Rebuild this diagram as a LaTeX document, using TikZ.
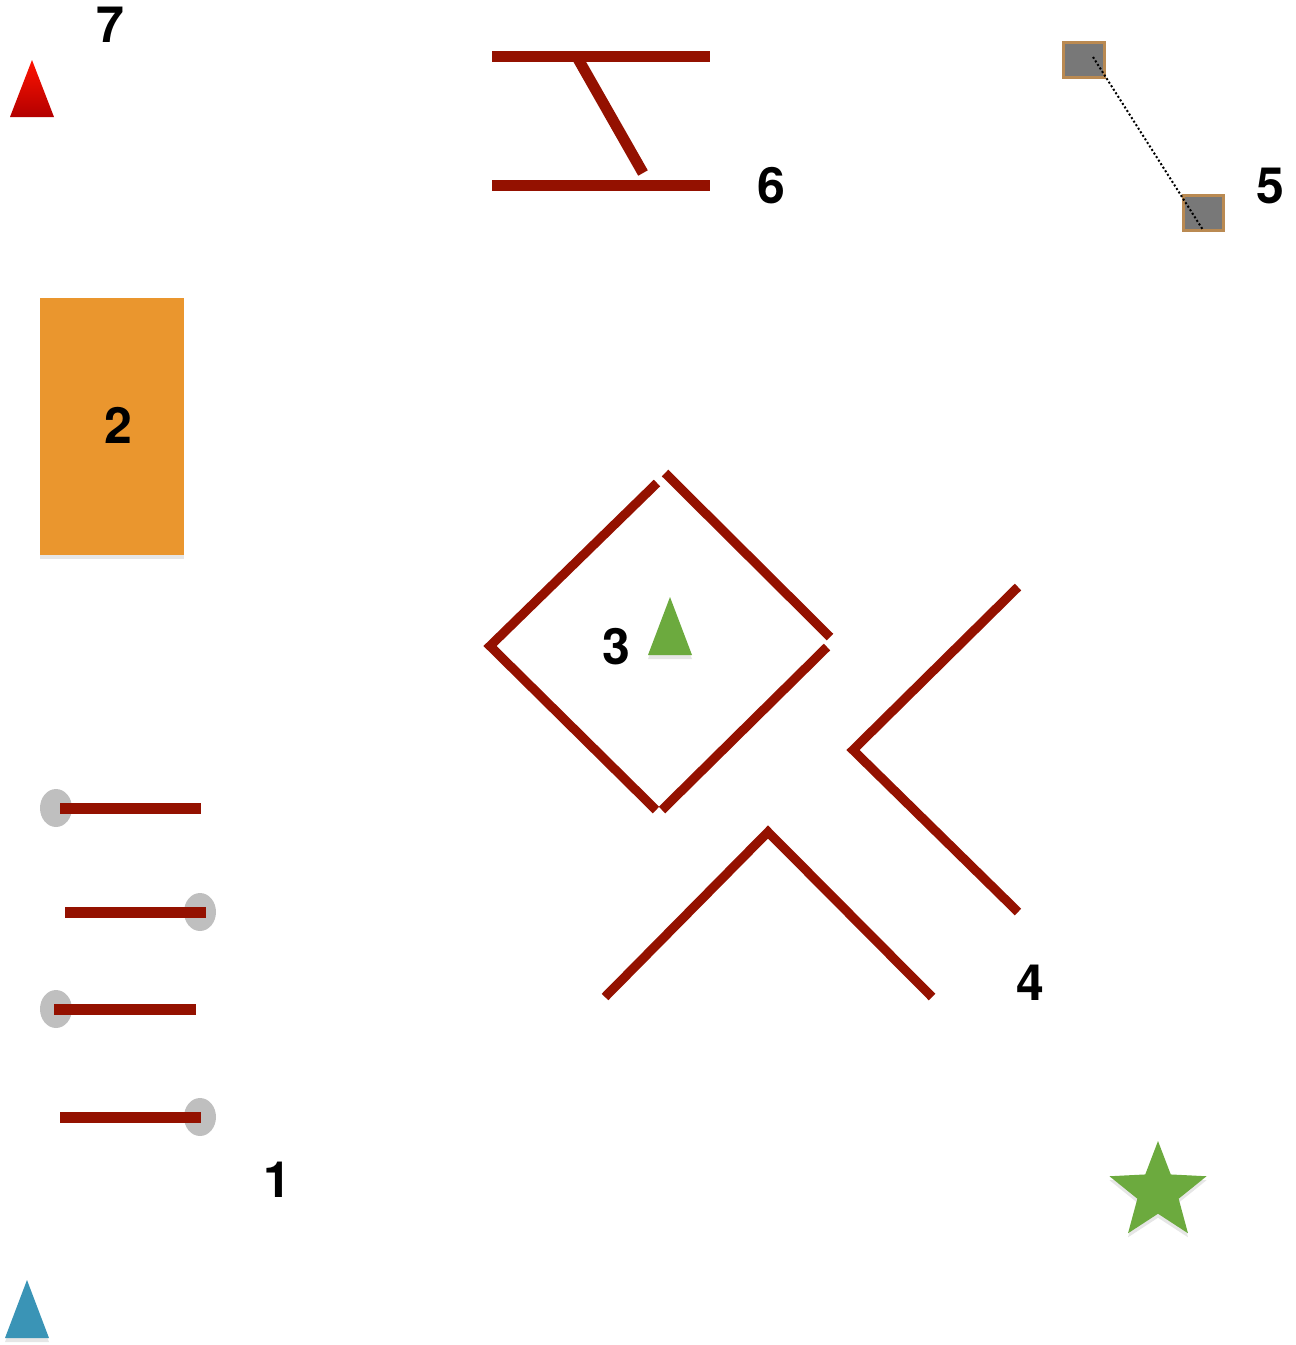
\documentclass[tikz,border=0pt]{standalone}
\usepackage{fontspec}
\setmainfont{TeX Gyre Heros}
\usetikzlibrary{shapes.geometric,shadows}
\definecolor{barred}{RGB}{148,17,0}
\definecolor{leafgreen}{RGB}{108,170,62}
\definecolor{tealblue}{RGB}{58,148,182}
\definecolor{sandorange}{RGB}{234,150,46}
\definecolor{knobgray}{RGB}{191,191,191}
\definecolor{blockgray}{RGB}{120,120,120}
\definecolor{blockrim}{RGB}{186,138,82}

\begin{document}
\begin{tikzpicture}[x=0.5pt,y=-0.5pt,
  num/.style={font=\fontsize{25}{30}\selectfont\bfseries,inner sep=0pt},
  bar/.style={draw=barred,line width=5.5pt},
  wall/.style={draw=barred,line width=4.6pt},
  knob/.style={fill=knobgray,draw=none},
  block/.style={draw=blockrim,fill=blockgray,line width=1.5pt,minimum height=17.5pt,inner sep=0pt},
  soft/.style={drop shadow={opacity=0.2,shadow xshift=0pt,shadow yshift=-2pt}}]
  \useasboundingbox (0,0) rectangle (1296,1345);

  % marker 7
  \shade[top color=red!85!orange,bottom color=red!70!black] (32,60) -- (54,117) -- (10,117) -- cycle;
  \node[num] (n7) at (110,25) {7};

  % hurdle 6
  \draw[bar] (492,56) -- (710,56);
  \draw[bar] (492,185) -- (710,185);
  \draw[bar] (577,57) -- (643,173);
  \node[num] (n6) at (771,186) {6};

  % blocks 5
  \node[block,minimum width=20.5pt] (b1) at (1083.5,59.5) {};
  \node[block,minimum width=20pt] (b2) at (1203,212.5) {};
  \coordinate (d1) at (1093,57);
  \coordinate (d2) at (1203,230);
  \draw[line width=1pt,dash pattern=on 1pt off 1.1pt] (d1) -- (d2);
  \node[num] (n5) at (1270,186) {5};

  % pad 2
  \node[fill=sandorange,soft,minimum width=72pt,minimum height=128.5pt,inner sep=0pt] (pad) at (112,426.5) {};
  \node[num] (n2) at (118,425) {2};

  % box 3
  \draw[wall] (657,483) -- (490,646) -- (656,810);
  \draw[wall] (662,810) -- (827,647);
  \draw[wall] (830,637) -- (665,473);
  \fill[leafgreen,soft] (670,597) -- (692,655) -- (648,655) -- cycle;
  \node[num] (n3) at (616,647) {3};

  % walls 4
  \draw[wall] (1018,587) -- (853,750) -- (1018,912);
  \draw[wall] (605,997) -- (768,832) -- (932,997);
  \node[num] (n4) at (1030,983) {4};

  % bars 1
  \foreach \y/\a/\b/\k in {808/60/201/56, 912/65/206/200, 1009/54/196/56, 1117/60/201/200} {
    \fill[knob] (\k,\y) ellipse [x radius=16, y radius=19];
    \draw[bar] (\a,\y) -- (\b,\y);
  }
  \node[num] (n1) at (277,1180) {1};

  % goal star
  \node[star,star points=5,star point ratio=2.35,minimum size=51pt,inner sep=0pt,fill=leafgreen,soft] (goal) at (1158,1192) {};

  % start marker
  \fill[tealblue,soft] (27,1280) -- (49,1338) -- (5,1338) -- cycle;
\end{tikzpicture}
\end{document}
